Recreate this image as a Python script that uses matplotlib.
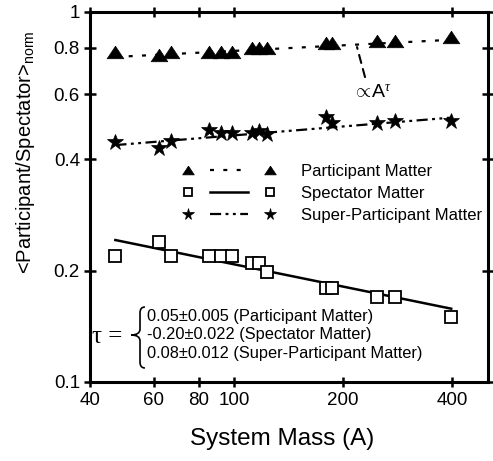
import numpy as np
import matplotlib
matplotlib.use("Agg")
import matplotlib.pyplot as plt
from matplotlib.lines import Line2D
from matplotlib.path import Path
from matplotlib.patches import PathPatch
from matplotlib.legend_handler import HandlerBase

plt.rcParams['font.family'] = ['Liberation Sans', 'DejaVu Sans']
plt.rcParams['mathtext.fontset'] = 'custom'
plt.rcParams['mathtext.rm'] = 'Liberation Sans'
plt.rcParams['mathtext.it'] = 'Liberation Serif:italic'

# system masses and normalised ratios
mass = [47, 62, 67, 85, 92, 99, 112, 117, 123, 179, 186, 248, 278, 398]
participant = [0.780, 0.765, 0.780, 0.780, 0.780, 0.780, 0.797, 0.797, 0.800,
               0.826, 0.826, 0.835, 0.835, 0.855]
spectator = [0.219, 0.239, 0.219, 0.219, 0.219, 0.219, 0.210, 0.210, 0.198,
             0.180, 0.180, 0.170, 0.170, 0.150]
super_part = [0.445, 0.429, 0.448, 0.480, 0.471, 0.471, 0.470, 0.478, 0.468,
              0.520, 0.501, 0.500, 0.506, 0.508]

series_names = ["Participant Matter", "Spectator Matter", "Super-Participant Matter"]
tau = [0.05, -0.20, 0.08]
tau_err = ["0.005", "0.022", "0.012"]
tau_txt = ["0.05", "-0.20", "0.08"]
norm_at_100 = [0.785, 0.208, 0.464]   # fit value at A = 100

xticks = [40, 60, 80, 100, 200, 400]
yticks = [0.1, 0.2, 0.4, 0.6, 0.8, 1]
ytick_labels = ["0.1", "0.2", "0.4", "0.6", "0.8", "1"]

tri = [(0, 0.75), (-1, -0.75), (1, -0.75), (0, 0.75)]
styles = [
    dict(marker=tri, ms=12, mfc='k', mec='k', mew=0.5, ls=(0, (1.8, 4.2)), lw=1.6),
    dict(marker='s', ms=8.5, mfc='white', mec='k', mew=1.3, ls='-', lw=1.8),
    dict(marker='*', ms=12, mfc='k', mec='k', mew=0.5, ls=(0, (5, 2, 1.3, 2, 1.3, 2)), lw=1.6),
]
series = [participant, spectator, super_part]


class GapHandler(HandlerBase):
    """marker -- line -- marker, with a gap between line and markers"""
    def create_artists(self, legend, orig, xdescent, ydescent, width, height, fontsize, trans):
        x0 = -xdescent
        x1 = x0 + width
        y = -ydescent + height / 2
        gap = width * 0.27
        ln = Line2D([x0 + gap, x1 - gap], [y, y])
        ln.update_from(orig)
        ln.set_marker('None')
        mk = Line2D([x0, x1], [y, y])
        mk.update_from(orig)
        mk.set_linestyle('None')
        mk.set_markersize(orig.get_markersize() * 0.7)
        ln.set_transform(trans)
        mk.set_transform(trans)
        return [ln, mk]


fig = plt.figure(figsize=(4.93, 4.61), dpi=100)
ax = fig.add_axes([0.1826, 0.1714, 0.8073, 0.8026])
ax.set_xscale('log')
ax.set_yscale('log')

a_fit = np.array([mass[0], mass[-1]], dtype=float)
handles = []
for vals, st, t, c in zip(series, styles, tau, norm_at_100):
    ax.plot(a_fit, c * (a_fit / 100.0) ** t, color='k', ls=st['ls'], lw=st['lw'], zorder=2)
    ax.plot(mass, vals, ls='None', marker=st['marker'], ms=st['ms'], mfc=st['mfc'],
            mec=st['mec'], mew=st['mew'], zorder=3)
    handles.append(Line2D([], [], color='k', **st))

leg = ax.legend(handles, series_names, loc='upper left', bbox_to_anchor=(0.246, 0.589),
                frameon=False, fontsize=12, handlelength=4.9, handletextpad=1.9,
                labelspacing=0.42, borderpad=0, borderaxespad=0,
                handler_map={Line2D: GapHandler()})

# proportionality pointer
ax.annotate('', xy=(218.6, 0.804), xytext=(230, 0.667),
            arrowprops=dict(arrowstyle='-', ls=(0, (4, 3)), lw=1.5, color='k',
                            shrinkA=0, shrinkB=0))
ax.text(241, 0.605, r'$\propto\!\mathrm{A}^{\tau}$', fontsize=14, ha='center', va='center')

# tau summary with brace
lines = [f"{v}±{e} ({n})" for v, e, n in zip(tau_txt, tau_err, series_names)]
ax.text(0.143, 0.127, "\n".join(lines), transform=ax.transAxes, fontsize=11.8,
        ha='left', va='center', linespacing=1.33)
ax.text(0.004, 0.122, "τ =", transform=ax.transAxes, fontsize=18, ha='left', va='center',
        family='Liberation Serif')
bx, tipx, ex = 0.1256, 0.103, 0.138
top, mid, bot = 0.2027, 0.127, 0.0378
r = 0.016
verts = [(ex, top), (bx, top), (bx, top - r),
         (bx, mid + r), (bx, mid), (tipx, mid),
         (bx, mid), (bx, mid - r),
         (bx, bot + r), (bx, bot), (ex, bot)]
codes = [Path.MOVETO, Path.CURVE3, Path.CURVE3,
         Path.LINETO, Path.CURVE3, Path.CURVE3,
         Path.CURVE3, Path.CURVE3,
         Path.LINETO, Path.CURVE3, Path.CURVE3]
ax.add_patch(PathPatch(Path(verts, codes), transform=ax.transAxes, fill=False, lw=1.2,
                       color='k'))

ax.set_xlim(40, 503)
ax.set_ylim(0.1, 1)
ax.xaxis.set_major_locator(matplotlib.ticker.FixedLocator(xticks))
ax.xaxis.set_minor_locator(matplotlib.ticker.NullLocator())
ax.xaxis.set_major_formatter(matplotlib.ticker.FixedFormatter([str(v) for v in xticks]))
ax.yaxis.set_major_locator(matplotlib.ticker.FixedLocator(yticks))
ax.yaxis.set_minor_locator(matplotlib.ticker.NullLocator())
ax.yaxis.set_major_formatter(matplotlib.ticker.FixedFormatter(ytick_labels))

ax.tick_params(which='both', direction='inout', top=True, right=True, width=1.8,
               length=7, labelsize=13.5)
ax.tick_params(axis='x', pad=4)
ax.tick_params(axis='y', length=8.5, pad=3)
for t in ax.xaxis.get_major_ticks():
    if t.get_loc() == 100:
        t.tick1line.set_markersize(10.5)
        t.tick2line.set_markersize(10.5)
for sp in ax.spines.values():
    sp.set_linewidth(2.2)

ax.set_xlabel("System Mass (A)", fontsize=17.5)
ax.xaxis.set_label_coords(0.482, -0.125)
ax.set_ylabel(r"<Participant/Spectator>$_{\mathrm{norm}}$", fontsize=14.5)
ax.yaxis.set_label_coords(-0.133, 0.62)

fig.savefig("out.png", dpi=100)
